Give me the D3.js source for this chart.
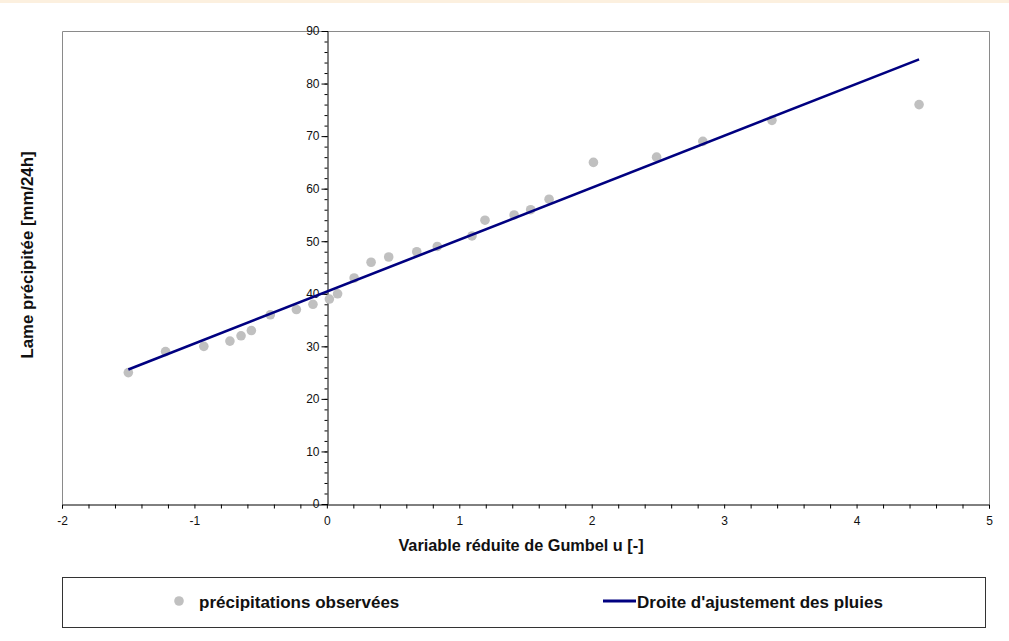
<!DOCTYPE html>
<html><head><meta charset="utf-8">
<script src="https://cdn.jsdelivr.net/npm/d3@7"></script>
<style>
html,body{margin:0;padding:0;background:#fff;}
svg{display:block;font-family:"Liberation Sans",Arial,sans-serif;}
</style></head>
<body><svg id="c" width="1009" height="641"></svg>
<script>
// Gumbel reduced variate u and observed precipitation [mm/24h]
const gumbelU = [-1.499,-1.218,-0.929,-0.732,-0.648,-0.570,-0.427,-0.230,-0.105,0.019,0.081,0.206,0.334,0.467,0.679,0.834,1.096,1.194,1.414,1.539,1.678,2.013,2.490,2.839,3.361,4.472];
const precip  = [25,29,30,31,32,33,36,37,38,39,40,43,46,47,48,49,51,54,55,56,58,65,66,69,73,76];
// fitted line endpoints
const fitU = [-1.499, 4.472];
const fitP = [25.6, 84.6];
const xTicks = [-2,-1,0,1,2,3,4,5];
const yTicks = [0,10,20,30,40,50,60,70,80,90];
const seriesNames = ["précipitations observées","Droite d'ajustement des pluies"];

const svg = d3.select("#c");
svg.append("rect").attr("x",0).attr("y",0).attr("width",1009).attr("height",3).attr("fill","#fcf0df");

const L=62,R=989,T=31,B=504;
const x = d3.scaleLinear().domain([-2,5]).range([L,R]);
const y = d3.scaleLinear().domain([0,90]).range([B,T]);

// plot frame
svg.append("path").attr("d",`M${L+0.5},${B}V${T+0.5}H${R+0.5}V${B}`)
  .attr("fill","none").attr("stroke","#8a8a8a").attr("stroke-width",1);

// x axis
const gx = svg.append("g").attr("transform",`translate(0,${B+0.5})`);
gx.call(d3.axisBottom(x).tickValues(d3.range(-2,5.001,0.2)).tickSize(4).tickFormat(""))
  .call(g=>g.select(".domain").attr("stroke","#000"))
  .call(g=>g.selectAll(".tick line").attr("stroke","#000"));
gx.append("g").call(d3.axisBottom(x).tickValues(xTicks).tickSize(0).tickPadding(12).tickFormat(d3.format("d")))
  .call(g=>g.select(".domain").remove())
  .call(g=>g.selectAll("text").attr("font-size",12).attr("fill","#111").attr("font-family","Liberation Sans, Arial").text(d=>String(d)));

// y axis
const y0 = x(0);
const gy = svg.append("g").attr("transform",`translate(${Math.round(y0)+0.5},0)`);
gy.call(d3.axisLeft(y).tickValues(d3.range(0,90.001,2)).tickSize(3).tickFormat(""))
  .call(g=>g.select(".domain").attr("stroke","#000"))
  .call(g=>g.selectAll(".tick line").attr("stroke","#000"));
gy.append("g").call(d3.axisLeft(y).tickValues(yTicks).tickSize(6).tickPadding(2).tickFormat(d3.format("d")))
  .call(g=>g.select(".domain").remove())
  .call(g=>g.selectAll(".tick line").attr("stroke","#000"))
  .call(g=>g.selectAll("text").attr("font-size",12).attr("fill","#111").attr("font-family","Liberation Sans, Arial"));

// titles
svg.append("text").attr("x",521).attr("y",551).attr("text-anchor","middle")
  .attr("font-size",16.3).attr("font-weight","bold").attr("fill","#111").text("Variable réduite de Gumbel u [-]");
svg.append("text").attr("transform","translate(33,255) rotate(-90)").attr("text-anchor","middle")
  .attr("font-size",16.8).attr("font-weight","bold").attr("fill","#111").text("Lame précipitée [mm/24h]");

// points
const pts = gumbelU.map((u,i)=>({u,p:precip[i]}));
svg.append("g").selectAll("circle").data(pts).join("circle")
  .attr("cx",d=>x(d.u)).attr("cy",d=>y(d.p)).attr("r",4.8).attr("fill","#c0c0c0");

// fit line
const fit = fitU.map((u,i)=>({u,p:fitP[i]}));
svg.append("path").datum(fit)
  .attr("d",d3.line().x(d=>x(d.u)).y(d=>y(d.p)))
  .attr("fill","none").attr("stroke","#000080").attr("stroke-width",2.6);

// legend
svg.append("rect").attr("x",62.5).attr("y",577.5).attr("width",923).attr("height",50)
  .attr("fill","#fff").attr("stroke","#333").attr("stroke-width",1);
svg.append("circle").attr("cx",179).attr("cy",601).attr("r",4.8).attr("fill","#c0c0c0");
svg.append("text").attr("x",199).attr("y",608).attr("font-size",17).attr("font-weight","bold").attr("fill","#111").text(seriesNames[0]);
svg.append("line").attr("x1",603).attr("x2",636).attr("y1",601).attr("y2",601).attr("stroke","#000080").attr("stroke-width",3);
svg.append("text").attr("x",637).attr("y",608).attr("font-size",17).attr("font-weight","bold").attr("fill","#111").text(seriesNames[1]);
</script></body></html>
